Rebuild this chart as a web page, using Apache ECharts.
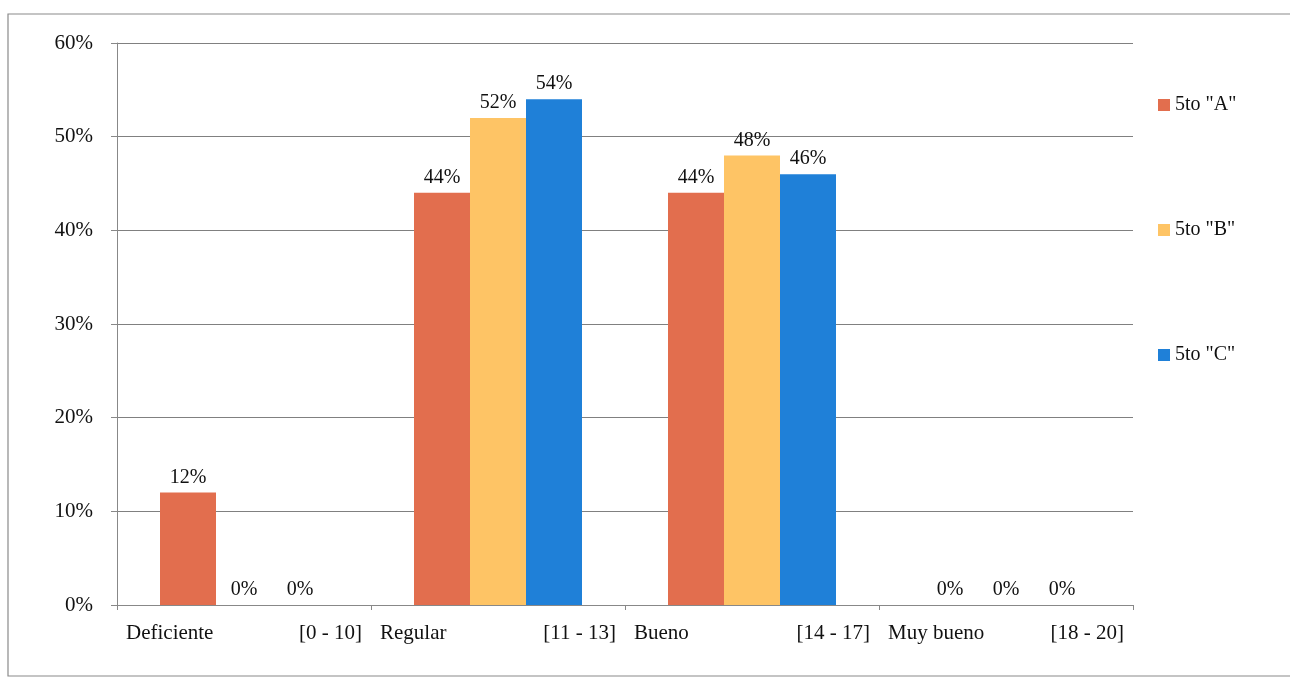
<!DOCTYPE html>
<html>
<head>
<meta charset="utf-8">
<script src="https://cdn.jsdelivr.net/npm/echarts@6/dist/echarts.min.js"></script>
<style>
  html, body { margin: 0; padding: 0; background: #fff; }
  #chart { width: 1290px; height: 679px; }
</style>
</head>
<body>
<div id="chart"></div>
<script>
// Score bands: level name plus grade range
const levelNames = ['Deficiente', 'Regular', 'Bueno', 'Muy bueno'];
const levelRanges = ['[0 - 10]', '[11 - 13]', '[14 - 17]', '[18 - 20]'];

// Percentage of students per band, by section
const seriesNames = ['5to "A"', '5to "B"', '5to "C"'];
const valuesA = [12, 44, 44, 0];
const valuesB = [0, 52, 48, 0];
const valuesC = [0, 54, 46, 0];

// Y axis ticks
const yMin = 0, yMax = 60, yStep = 10;

const colors = ['#E26E4E', '#FEC465', '#1F80D8'];
const serif = '"Liberation Serif", "Times New Roman", serif';

const chart = echarts.init(document.getElementById('chart'), null, { renderer: 'canvas' });

const categories = levelNames.map((n, i) => n + '|' + levelRanges[i]);

function makeSeries(name, data, color) {
  return {
    name: name,
    type: 'bar',
    data: data,
    barWidth: 56,
    barGap: '0%',
    itemStyle: { color: color },
    label: {
      show: true,
      position: 'top',
      distance: 5,
      formatter: p => p.value + '%',
      fontFamily: serif,
      fontSize: 20,
      color: '#111'
    }
  };
}

chart.setOption({
  backgroundColor: '#fff',
  animation: false,
  graphic: [{
    type: 'rect',
    shape: { x: 8, y: 14, width: 1290, height: 662 },
    style: { fill: 'none', stroke: '#8a8a8a', lineWidth: 1.2 },
    silent: true,
    z: -1
  }],
  grid: { left: 117, right: 157, top: 43, bottom: 74 },
  legend: {
    orient: 'vertical',
    left: 1153,
    top: 90,
    itemWidth: 12,
    itemHeight: 12,
    itemGap: 105,
    itemStyle: { borderWidth: 0 },
    icon: 'rect',
    textStyle: { fontFamily: serif, fontSize: 20, color: '#111' },
    data: seriesNames
  },
  xAxis: {
    type: 'category',
    data: categories,
    axisLine: { lineStyle: { color: '#888', width: 1 } },
    axisTick: { show: true, alignWithLabel: false, length: 5, lineStyle: { color: '#888' } },
    axisLabel: {
      interval: 0,
      margin: 18,
      formatter: v => {
        const parts = v.split('|');
        return '{n|' + parts[0] + '}{r|' + parts[1] + '}';
      },
      rich: {
        n: { fontFamily: serif, fontSize: 21, color: '#111', width: 150, align: 'left' },
        r: { fontFamily: serif, fontSize: 21, color: '#111', width: 86, align: 'right' }
      }
    }
  },
  yAxis: {
    type: 'value',
    min: yMin,
    max: yMax,
    interval: yStep,
    axisLine: { show: true, lineStyle: { color: '#888', width: 1 } },
    axisTick: { show: true, length: 6, lineStyle: { color: '#888' } },
    splitLine: { lineStyle: { color: '#808080', width: 1 } },
    axisLabel: {
      formatter: v => v + '%',
      fontFamily: serif,
      fontSize: 21,
      color: '#111',
      margin: 24
    }
  },
  series: [
    makeSeries(seriesNames[0], valuesA, colors[0]),
    makeSeries(seriesNames[1], valuesB, colors[1]),
    makeSeries(seriesNames[2], valuesC, colors[2])
  ]
});
</script>
</body>
</html>
